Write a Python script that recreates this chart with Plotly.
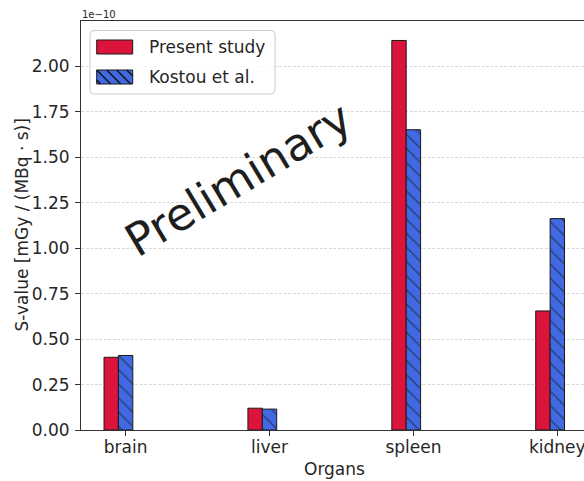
import plotly.graph_objects as go

# ---- data (values in units of 1e-10 mGy/(MBq*s)) ----
organs = ["brain", "liver", "spleen", "kidney"]
present_study = [0.40, 0.12, 2.143, 0.655]
kostou_et_al = [0.41, 0.115, 1.652, 1.163]
series_names = ["Present study", "Kostou et al."]
y_ticks = [0.00, 0.25, 0.50, 0.75, 1.00, 1.25, 1.50, 1.75, 2.00]

# window geometry (body margin removed via post_script)
W, H = 584, 481
PL, PR, PT, PB = 81, 584, 21, 430   # plot area in window pixels
L, T, R, B = PL, PT, W - PR, H - PB
PW, PH = PR - PL, PB - PT

def px(x):
    return (x - PL) / PW

def py(y):
    return (PB - y) / PH

FONT = "DejaVu Sans"
RED = "#DC143C"
BLUE = "#4169E1"
EDGE = "#1a1a1a"
TXT = "#262626"
bar_w = 0.1
idx = list(range(len(organs)))

fig = go.Figure()
fig.add_trace(go.Bar(
    x=[i - bar_w for i in idx], y=present_study, width=bar_w,
    name=series_names[0],
    marker=dict(color=RED, line=dict(color=EDGE, width=1)),
    showlegend=False,
))
fig.add_trace(go.Bar(
    x=idx, y=kostou_et_al, width=bar_w,
    name=series_names[1],
    marker=dict(color=BLUE, line=dict(color=EDGE, width=1),
                pattern=dict(shape="\\", fillmode="overlay", bgcolor=BLUE,
                             fgcolor="#111111", size=10, solidity=0.14)),
    showlegend=False,
))

ymax = max(max(present_study), max(kostou_et_al)) * 1.05
x0 = -0.31
unit_px = 143.9

fig.update_layout(
    width=W, height=H,
    margin=dict(l=L, r=R, t=T, b=B, autoexpand=False),
    paper_bgcolor="white", plot_bgcolor="white",
    barmode="overlay",
    font=dict(family=FONT, size=17, color=TXT),
    showlegend=False,
)
fig.update_xaxes(
    range=[x0, x0 + PW / unit_px],
    tickvals=idx, ticktext=organs,
    showgrid=False, zeroline=False,
    showline=True, mirror=True, linecolor="#333333", linewidth=1,
    ticks="outside", ticklen=5, tickwidth=1, tickcolor="#333333",
    tickfont=dict(family=FONT, size=17, color=TXT),
    ticklabeloverflow="allow",
    ticklabelstandoff=-3,
    automargin=False,
)
fig.update_yaxes(
    range=[0, ymax],
    tickvals=y_ticks, ticktext=[f"{v:.2f}" for v in y_ticks],
    showgrid=True, gridcolor="#d9d9d9", gridwidth=0.8, griddash="3px,1.5px",
    zeroline=False,
    showline=True, mirror=False, linecolor="#333333", linewidth=1,
    ticks="outside", ticklen=5, tickwidth=1, tickcolor="#333333",
    tickfont=dict(family=FONT, size=17, color=TXT),
    ticklabelstandoff=2,
    automargin=False,
)

annotations = [
    dict(text="S-value [mGy / (MBq · s)]", x=px(21), y=0.5, xref="paper", yref="paper",
         xanchor="center", yanchor="middle", textangle=-90, showarrow=False,
         font=dict(family=FONT, size=17, color=TXT)),
    dict(text="Organs", x=px(334), y=py(469), xref="paper", yref="paper",
         xanchor="center", yanchor="middle", showarrow=False,
         font=dict(family=FONT, size=17, color=TXT)),
    dict(text="1e\u221210", x=px(80), y=py(14.5), xref="paper", yref="paper",
         xanchor="left", yanchor="middle", showarrow=False,
         font=dict(family=FONT, size=10, color=TXT)),
    dict(text="Preliminary", x=px(238), y=py(179), xref="paper", yref="paper",
         xanchor="center", yanchor="middle", textangle=-31, showarrow=False,
         font=dict(family=FONT, size=45, color="#1e1e1e")),
    dict(text=series_names[0], x=px(147), y=py(47), xref="paper", yref="paper",
         xanchor="left", yanchor="middle", showarrow=False,
         font=dict(family=FONT, size=17, color=TXT)),
    dict(text=series_names[1], x=px(147), y=py(77), xref="paper", yref="paper",
         xanchor="left", yanchor="middle", showarrow=False,
         font=dict(family=FONT, size=17, color=TXT)),
]

# ---- manual legend (box + patches) ----
shapes = []
bx0, bx1, by0, by1, r = 90, 275, 30.5, 94, 4
path = (f"M{px(bx0 + r)},{py(by0)} L{px(bx1 - r)},{py(by0)} Q{px(bx1)},{py(by0)} {px(bx1)},{py(by0 + r)} "
        f"L{px(bx1)},{py(by1 - r)} Q{px(bx1)},{py(by1)} {px(bx1 - r)},{py(by1)} "
        f"L{px(bx0 + r)},{py(by1)} Q{px(bx0)},{py(by1)} {px(bx0)},{py(by1 - r)} "
        f"L{px(bx0)},{py(by0 + r)} Q{px(bx0)},{py(by0)} {px(bx0 + r)},{py(by0)} Z")
shapes.append(dict(type="path", path=path, xref="paper", yref="paper",
                   fillcolor="rgba(255,255,255,0.8)", line=dict(color="#cccccc", width=1)))

# red patch
rx0, rx1, ry0, ry1 = 96.7, 132.7, 40, 54
shapes.append(dict(type="rect", xref="paper", yref="paper",
                   x0=px(rx0), x1=px(rx1), y0=py(ry1), y1=py(ry0),
                   fillcolor=RED, line=dict(color=EDGE, width=1)))
# blue hatched patch
qx0, qx1, qy0, qy1 = 96.7, 132.7, 70, 84
shapes.append(dict(type="rect", xref="paper", yref="paper",
                   x0=px(qx0), x1=px(qx1), y0=py(qy1), y1=py(qy0),
                   fillcolor=BLUE, line=dict(width=0)))
c = qy0 - qx1 - 4
while c < qy1 - qx0:
    xa = max(qx0, qy0 - c)
    xb = min(qx1, qy1 - c)
    if xb > xa:
        shapes.append(dict(type="line", xref="paper", yref="paper",
                           x0=px(xa), y0=py(xa + c), x1=px(xb), y1=py(xb + c),
                           line=dict(color="#111111", width=1.4)))
    c += 10
shapes.append(dict(type="rect", xref="paper", yref="paper",
                   x0=px(qx0), x1=px(qx1), y0=py(qy1), y1=py(qy0),
                   fillcolor="rgba(0,0,0,0)", line=dict(color=EDGE, width=1)))

fig.update_layout(annotations=annotations, shapes=shapes)
fig.write_html(
    "out.html",
    config={"displayModeBar": False},
    post_script="document.body.style.margin='0';document.body.style.overflow='hidden';"
                "document.documentElement.style.overflow='hidden';",
)
